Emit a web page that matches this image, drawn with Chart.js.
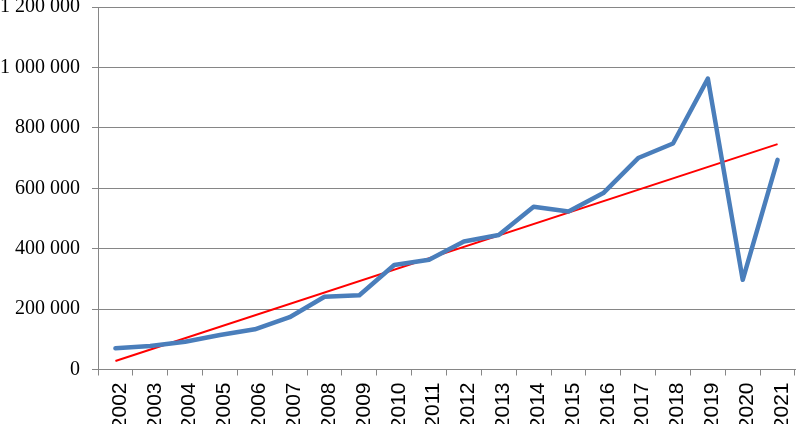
<!DOCTYPE html>
<html>
<head>
<meta charset="utf-8">
<script src="https://cdn.jsdelivr.net/npm/chart.js@4/dist/chart.umd.min.js"></script>
<style>
  html, body { margin: 0; padding: 0; background: #fff; }
  canvas { display: block; }
</style>
</head>
<body>
<canvas id="grafico" width="796" height="424"></canvas>
<script>
// datos
const anios = ['2002', '2003', '2004', '2005', '2006', '2007', '2008', '2009', '2010', '2011',
               '2012', '2013', '2014', '2015', '2016', '2017', '2018', '2019', '2020', '2021'];
const valores = [70000, 78000, 92000, 114000, 133000, 173000, 241000, 246000, 346000, 363000,
                 424000, 445000, 539000, 523000, 584000, 700000, 748000, 963000, 297000, 694000];
// tendencia lineal: solo los extremos (2002 y 2021)
const tendenciaExtremos = [28000, 746000];
const ticksY = [0, 200000, 400000, 600000, 800000, 1000000, 1200000];

const tendencia = anios.map((a, i) => {
    if (i === 0) return tendenciaExtremos[0];
    if (i === anios.length - 1) return tendenciaExtremos[1];
    return null;
});

const gris = '#868686';

function formatoEspacios(v) {
    return v.toString().replace(/\B(?=(\d{3})+(?!\d))/g, ' ');
}

new Chart(document.getElementById('grafico').getContext('2d'), {
    type: 'line',
    data: {
        labels: anios,
        datasets: [
            {
                label: 'Valores',
                data: valores,
                borderColor: '#4A7EBB',
                borderWidth: 4.5,
                borderJoinStyle: 'round',
                borderCapStyle: 'round',
                pointRadius: 0,
                tension: 0,
                fill: false
            },
            {
                label: 'Tendencia',
                data: tendencia,
                borderColor: '#FF0000',
                borderWidth: 2,
                pointRadius: 0,
                spanGaps: true,
                fill: false
            }
        ]
    },
    options: {
        responsive: false,
        animation: false,
        layout: { padding: { top: 7, right: 1, left: 0, bottom: 0 } },
        plugins: {
            legend: { display: false },
            tooltip: { enabled: false }
        },
        scales: {
            x: {
                offset: true,
                grid: {
                    offset: true,
                    drawOnChartArea: false,
                    drawTicks: true,
                    tickLength: 6,
                    color: gris
                },
                border: { display: true, color: gris },
                ticks: {
                    minRotation: 90,
                    maxRotation: 90,
                    padding: 7,
                    labelOffset: 4.5,
                    color: '#000',
                    font: { family: 'Liberation Sans', size: 21 }
                },
                afterFit: (scale) => {
                    scale.height = 54.5;
                    scale.paddingLeft = 0;
                    scale.paddingRight = 0;
                }
            },
            y: {
                min: 0,
                max: 1200000,
                afterBuildTicks: (scale) => {
                    scale.ticks = ticksY.map(v => ({ value: v }));
                },
                grid: {
                    color: gris,
                    lineWidth: 1,
                    tickLength: 6
                },
                border: { display: true, color: gris },
                ticks: {
                    padding: 12,
                    color: '#000',
                    font: { family: 'Liberation Serif', size: 20 },
                    callback: (v) => formatoEspacios(v)
                },
                afterFit: (scale) => {
                    scale.width = 98;
                    scale.paddingTop = 0;
                    scale.paddingBottom = 0;
                }
            }
        }
    }
});
</script>
</body>
</html>
